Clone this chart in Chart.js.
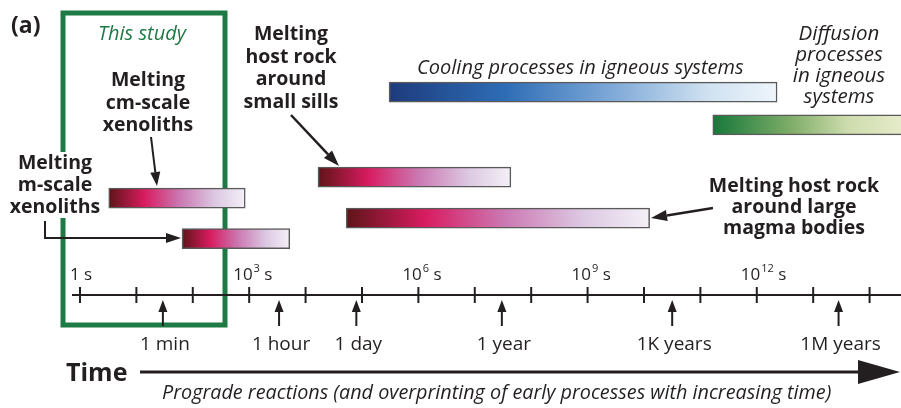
<!DOCTYPE html>
<html>
<head>
<meta charset="utf-8">
<script src="https://cdn.jsdelivr.net/npm/chart.js@4.4.1/dist/chart.umd.min.js"></script>
<style>
  html, body { margin: 0; padding: 0; background: #fff; }
  #wrap { width: 901px; height: 408px; position: relative; }
</style>
</head>
<body>
<div id="wrap"><canvas id="timeChart"></canvas></div>
<script>
// time is in log10(seconds)
const processNames = ['Cooling', 'Diffusion', 'Small sills', 'cm-scale xenoliths', 'Large magma bodies', 'm-scale xenoliths'];
const startLog = [5.48, 11.22, 4.22, 0.51, 4.72, 1.81];
const endLog = [12.36, 15.2, 7.64, 2.93, 10.1, 3.72];
const lanes = [0, 1.6, 4.15, 5.17, 6.15, 7.15];
const barKind = ['cool', 'diff', 'melt', 'melt', 'melt', 'melt'];

const decades = [0, 1, 2, 3, 4, 5, 6, 7, 8, 9, 10, 11, 12, 13, 14];
const powerTicks = [0, 3, 6, 9, 12];
const powerLabels = ['1 s', '3', '6', '9', '12'];

const markerNames = ['1 min', '1 hour', '1 day', '1 year', '1K years', '1M years'];
const markerLog = [1.47, 3.53, 4.9, 7.48, 10.5, 13.45];

const gradStops = {
  melt: [[0, '#5e1418'], [0.26, '#d81b60'], [0.52, '#cb78b2'], [0.78, '#dcc8e2'], [1, '#f4f0f7']],
  cool: [[0, '#1d3b7c'], [0.3, '#2e6db6'], [0.58, '#80aad8'], [0.82, '#cfe1f1'], [1, '#eef5fb']],
  diff: [[0, '#17783a'], [0.35, '#80ad69'], [0.6, '#cddcad'], [1, '#f6f4dc']]
};

const ink = '#231f20';
const green = '#1d7a44';
const sans = '"Open Sans", "Noto Sans", sans-serif';

function barFill(c) {
  const chart = c.chart;
  if (!chart.chartArea || c.dataIndex === undefined) return '#ccc';
  const xs = chart.scales.x;
  const x0 = xs.getPixelForValue(startLog[c.dataIndex]);
  const x1 = xs.getPixelForValue(endLog[c.dataIndex]);
  const g = chart.ctx.createLinearGradient(x0, 0, x1, 0);
  gradStops[barKind[c.dataIndex]].forEach(s => g.addColorStop(s[0], s[1]));
  return g;
}

function arrow(ctx, x1, y1, x2, y2, len, half, lw) {
  const a = Math.atan2(y2 - y1, x2 - x1);
  const bx = x2 - len * Math.cos(a), by = y2 - len * Math.sin(a);
  ctx.beginPath();
  ctx.lineWidth = lw;
  ctx.moveTo(x1, y1);
  ctx.lineTo(bx, by);
  ctx.stroke();
  ctx.beginPath();
  ctx.moveTo(x2, y2);
  ctx.lineTo(bx + half * Math.sin(a), by - half * Math.cos(a));
  ctx.lineTo(bx - half * Math.sin(a), by + half * Math.cos(a));
  ctx.closePath();
  ctx.fill();
}

function lines(ctx, arr, x, y, step) {
  arr.forEach((t, i) => ctx.fillText(t, x, y + i * step));
}

const boxPlugin = {
  id: 'studyBox',
  beforeDatasetsDraw(chart) {
    const ctx = chart.ctx;
    ctx.save();
    ctx.strokeStyle = green;
    ctx.lineWidth = 5;
    ctx.strokeRect(63, 13, 162, 312);
    // knock out behind the m-scale label
    ctx.fillStyle = '#fff';
    ctx.fillRect(56, 152, 14, 66);
    ctx.restore();
  }
};

const notesPlugin = {
  id: 'notes',
  afterDatasetsDraw(chart) {
    const ctx = chart.ctx;
    const xs = chart.scales.x;
    const axisY = 295;
    ctx.save();
    ctx.fillStyle = ink;
    ctx.strokeStyle = ink;

    // timeline axis
    ctx.lineWidth = 2;
    ctx.beginPath();
    ctx.moveTo(72, axisY);
    ctx.lineTo(901, axisY);
    ctx.stroke();
    decades.forEach(d => {
      const x = xs.getPixelForValue(d);
      ctx.beginPath();
      ctx.moveTo(x, axisY - 8);
      ctx.lineTo(x, axisY + 8);
      ctx.stroke();
    });

    // power-of-ten labels
    ctx.textAlign = 'left';
    ctx.textBaseline = 'alphabetic';
    powerTicks.forEach((p, i) => {
      const x = xs.getPixelForValue(p);
      ctx.font = '17px ' + sans;
      if (i === 0) {
        ctx.fillText(powerLabels[i], x - 10, 280);
        return;
      }
      ctx.fillText('10', x - 16, 280);
      const w = ctx.measureText('10').width;
      ctx.font = '11px ' + sans;
      ctx.fillText(powerLabels[i], x - 16 + w + 1, 272);
      const w2 = ctx.measureText(powerLabels[i]).width;
      ctx.font = '17px ' + sans;
      ctx.fillText(' s', x - 16 + w + w2 + 1, 280);
    });

    // time markers
    ctx.textAlign = 'center';
    markerNames.forEach((m, i) => {
      const x = xs.getPixelForValue(markerLog[i]);
      arrow(ctx, x, 326, x, axisY + 5, 12, 4.5, 2);
      ctx.font = '19px ' + sans;
      ctx.fillText(m, x + 2, 350);
    });

    // big time arrow
    ctx.font = 'bold 25px ' + sans;
    ctx.textAlign = 'left';
    ctx.fillText('Time', 66, 381);
    ctx.beginPath();
    ctx.lineWidth = 3;
    ctx.moveTo(140, 372);
    ctx.lineTo(862, 372);
    ctx.stroke();
    ctx.beginPath();
    ctx.moveTo(900, 372);
    ctx.lineTo(858, 360);
    ctx.lineTo(858, 384);
    ctx.closePath();
    ctx.fill();
    ctx.font = 'italic 19.8px ' + sans;
    ctx.fillText('Prograde reactions (and overprinting of early processes with increasing time)', 162, 399);

    // panel tag and study label
    ctx.font = 'bold 23px ' + sans;
    ctx.fillText('(a)', 11, 33);
    ctx.fillStyle = green;
    ctx.font = 'italic 20px ' + sans;
    ctx.textAlign = 'center';
    ctx.fillText('This study', 142, 40);

    // process labels
    ctx.fillStyle = ink;
    ctx.font = 'bold 19.5px ' + sans;
    lines(ctx, ['Melting', 'cm-scale', 'xenoliths'], 148, 86, 22.5);
    arrow(ctx, 151, 137, 157, 186, 14, 5, 2);

    lines(ctx, ['Melting', 'm-scale', 'xenoliths'], 55, 169, 22);
    ctx.lineWidth = 2;
    ctx.beginPath();
    ctx.moveTo(45, 221);
    ctx.lineTo(45, 238);
    ctx.stroke();
    arrow(ctx, 44, 238, 181, 238, 15, 5, 2);

    lines(ctx, ['Melting', 'host rock', 'around', 'small sills'], 291, 40, 22.5);
    arrow(ctx, 291, 115, 339, 166, 16, 5.5, 2.5);

    lines(ctx, ['Melting host rock', 'around large', 'magma bodies'], 794, 192, 21);
    arrow(ctx, 713, 208, 651, 218, 16, 5.5, 2.5);

    ctx.font = 'italic 20px ' + sans;
    ctx.textAlign = 'left';
    ctx.fillText('Cooling processes in igneous systems', 417, 74);
    ctx.textAlign = 'center';
    ctx.font = 'italic 20.5px ' + sans;
    lines(ctx, ['Diffusion', 'processes', 'in igneous', 'systems'], 839, 40, 21);

    ctx.restore();
  }
};

const data = processNames.map((n, i) => ({ y: lanes[i], x: [startLog[i], endLog[i]] }));

new Chart(document.getElementById('timeChart'), {
  type: 'bar',
  data: {
    datasets: [{
      label: 'Process durations',
      data: data,
      backgroundColor: barFill,
      borderColor: '#5a5a5a',
      borderWidth: 1.5,
      borderSkipped: false,
      barThickness: 20
    }]
  },
  options: {
    indexAxis: 'y',
    responsive: true,
    maintainAspectRatio: false,
    animation: false,
    layout: { padding: 0 },
    plugins: { legend: { display: false }, tooltip: { enabled: false } },
    scales: {
      x: { type: 'linear', min: -1.418, max: 14.557, display: false },
      y: { type: 'linear', min: -4.49, max: 15.41, reverse: true, offset: false, display: false }
    }
  },
  plugins: [boxPlugin, notesPlugin]
});
</script>
</body>
</html>
